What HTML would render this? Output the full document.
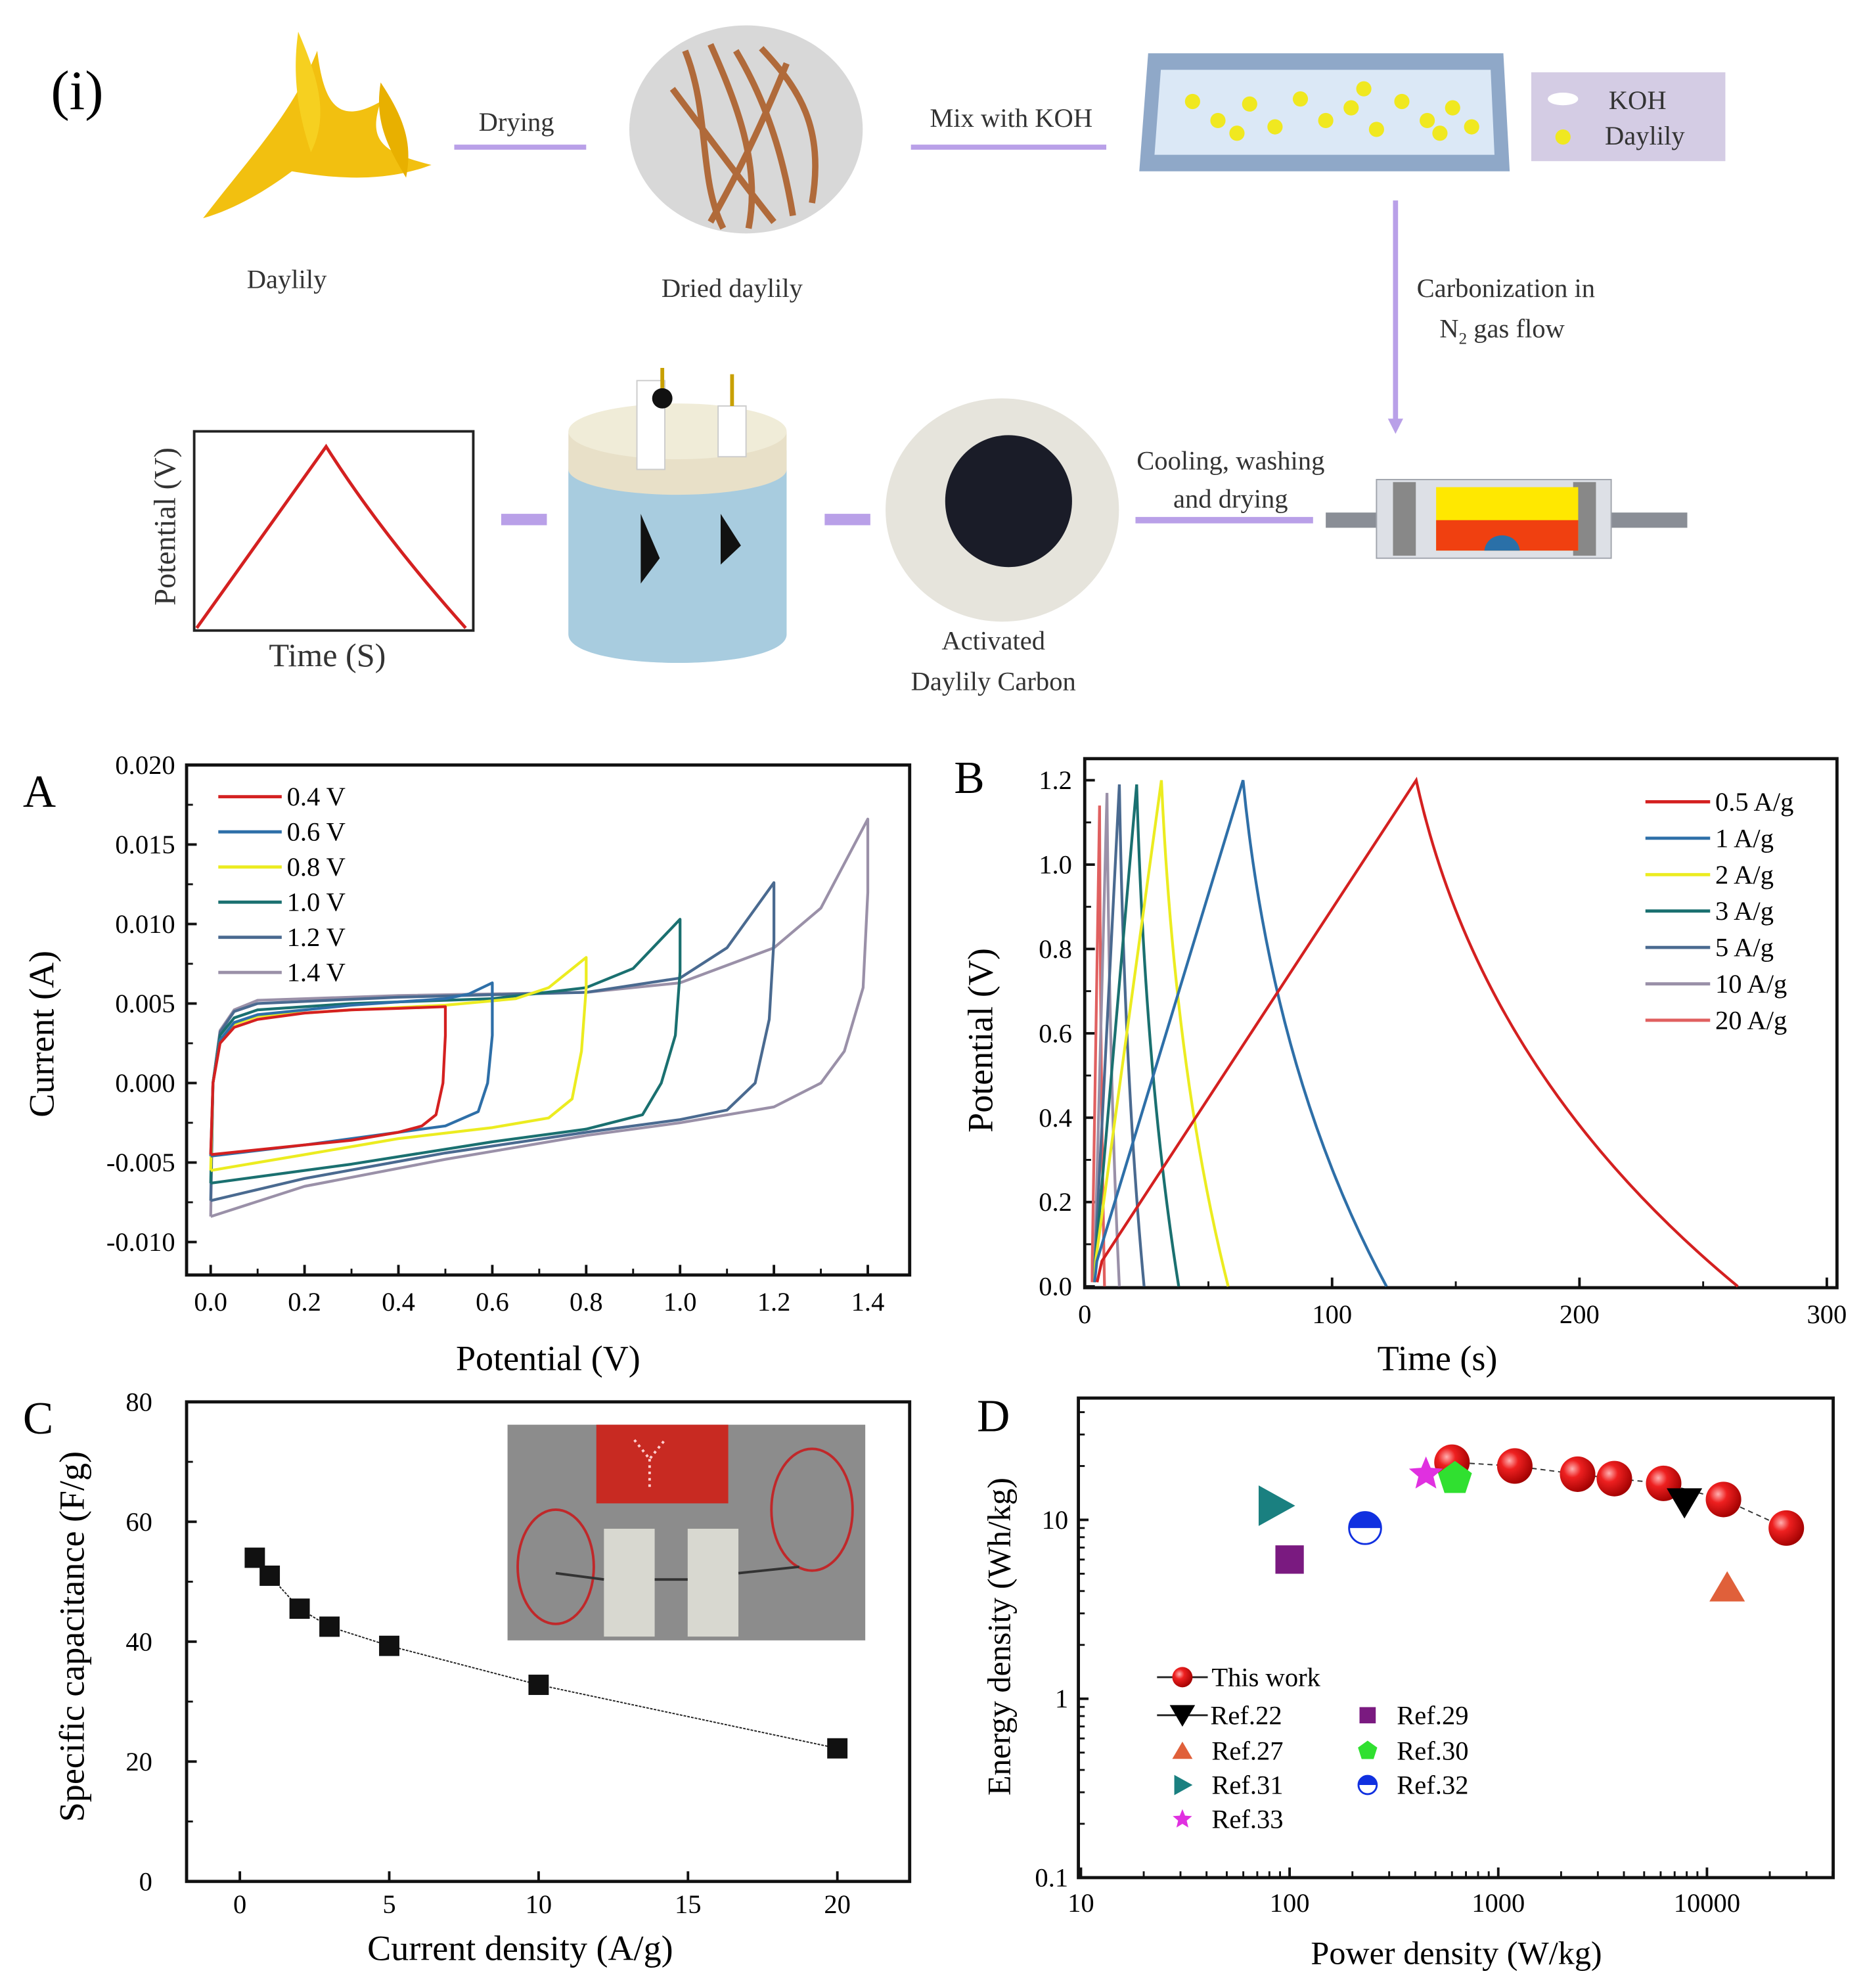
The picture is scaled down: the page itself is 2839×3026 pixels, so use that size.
<!DOCTYPE html>
<html><head><meta charset="utf-8">
<style>
html,body{margin:0;padding:0;background:#fff;}
svg{display:block;font-family:"Liberation Serif",serif;}
</style></head>
<body>
<svg id="fig" width="2839" height="3026" viewBox="0 0 1470 1567" xmlns="http://www.w3.org/2000/svg">
<rect width="1470" height="1567" fill="#fff"/>
<g>
  <text x="40" y="86" font-size="44">(i)</text>
  <g>
    <path d="M160,172 C200,120 230,90 250,40 C255,80 265,100 300,80 C290,110 300,120 340,130 C300,145 260,140 230,135 C210,150 185,165 160,172Z" fill="#f2c010"/>
    <path d="M235,25 C250,60 260,90 245,120 C235,90 230,60 235,25Z" fill="#f6d020"/>
    <path d="M300,65 C320,95 325,115 320,140 C305,115 295,95 300,65Z" fill="#e8b000"/>
  </g>
  <text x="226" y="227" font-size="21" text-anchor="middle" fill="#333">Daylily</text>
  <line x1="358" y1="116" x2="462" y2="116" stroke="#b9a0e8" stroke-width="4"/>
  <text x="407" y="103" font-size="21" text-anchor="middle" fill="#333">Drying</text>
  <g>
    <ellipse cx="588" cy="102" rx="92" ry="82" fill="#d8d8d8"/>
    <path d="M540,40 C560,90 550,140 570,180 M560,35 C580,80 600,130 590,180 M580,40 C610,90 620,140 625,170 M600,38 C630,70 650,100 640,160 M530,70 C560,110 590,150 610,175 M620,50 C600,100 580,140 560,175" stroke="#b06a3a" stroke-width="5" fill="none"/>
  </g>
  <text x="577" y="234" font-size="21" text-anchor="middle" fill="#333">Dried daylily</text>
  <line x1="718" y1="116" x2="872" y2="116" stroke="#b9a0e8" stroke-width="4"/>
  <text x="797" y="100" font-size="21" text-anchor="middle" fill="#333">Mix with KOH</text>
  <g>
    <path d="M905,42 L1185,42 L1190,135 L898,135Z" fill="#8fa8c8"/>
    <path d="M915,55 L1175,55 L1178,122 L910,122Z" fill="#dbe8f6"/>
    <g fill="#f0e820">
      <circle cx="940" cy="80" r="6"/><circle cx="960" cy="95" r="6"/><circle cx="985" cy="82" r="6"/><circle cx="1005" cy="100" r="6"/><circle cx="1025" cy="78" r="6"/><circle cx="1045" cy="95" r="6"/><circle cx="1065" cy="85" r="6"/><circle cx="1085" cy="102" r="6"/><circle cx="1105" cy="80" r="6"/><circle cx="1125" cy="95" r="6"/><circle cx="1145" cy="85" r="6"/><circle cx="1160" cy="100" r="6"/><circle cx="975" cy="105" r="6"/><circle cx="1075" cy="70" r="6"/><circle cx="1135" cy="105" r="6"/>
    </g>
  </g>
  <g>
    <rect x="1207" y="57" width="153" height="70" fill="#d4cce4"/>
    <ellipse cx="1232" cy="78" rx="12" ry="5" fill="#fff"/>
    <circle cx="1232" cy="108" r="6" fill="#f0e820"/>
    <text x="1268" y="86" font-size="21" fill="#333">KOH</text>
    <text x="1265" y="114" font-size="21" fill="#333">Daylily</text>
  </g>
  <line x1="1100" y1="158" x2="1100" y2="338" stroke="#b9a0e8" stroke-width="4"/>
  <path d="M1094,330 L1106,330 L1100,342Z" fill="#b9a0e8"/>
  <text x="1187" y="234" font-size="21" text-anchor="middle" fill="#333">Carbonization  in</text>
  <text x="1184" y="266" font-size="21" text-anchor="middle" fill="#333">N<tspan font-size="13" dy="5">2</tspan><tspan dy="-5"> gas flow</tspan></text>
  <g>
    <rect x="1045" y="404" width="285" height="12" fill="#8a8e96"/>
    <rect x="1085" y="378" width="185" height="62" fill="#dde0e6" stroke="#a0a4ac"/>
    <rect x="1098" y="380" width="18" height="58" fill="#888"/>
    <rect x="1240" y="380" width="18" height="58" fill="#888"/>
    <rect x="1132" y="384" width="112" height="50" fill="#ffe800"/>
    <rect x="1132" y="410" width="112" height="24" fill="#f04010"/>
    <path d="M1170,434 C1172,418 1196,418 1198,434Z" fill="#2a70a8"/>
  </g>
  <line x1="895" y1="410" x2="1035" y2="410" stroke="#b9a0e8" stroke-width="5"/>
  <text x="970" y="370" font-size="21" text-anchor="middle" fill="#333">Cooling, washing</text>
  <text x="970" y="400" font-size="21" text-anchor="middle" fill="#333">and drying</text>
  <g>
    <ellipse cx="790" cy="402" rx="92" ry="88" fill="#e6e4dc"/>
    <ellipse cx="795" cy="395" rx="50" ry="52" fill="#1a1c28"/>
  </g>
  <text x="783" y="512" font-size="21" text-anchor="middle" fill="#333">Activated</text>
  <text x="783" y="544" font-size="21" text-anchor="middle" fill="#333">Daylily Carbon</text>
  <rect x="650" y="405" width="36" height="9" fill="#b9a0e8"/>
  <g>
    <path d="M448,355 L448,500 C448,530 620,530 620,500 L620,355Z" fill="#b8d4e4"/>
    <path d="M448,370 L448,500 C448,530 620,530 620,500 L620,370Z" fill="#9cc6dc" opacity="0.6"/>
    <ellipse cx="534" cy="370" rx="86" ry="20" fill="#e8e0c8"/>
    <rect x="448" y="340" width="172" height="30" fill="#e8e0c8"/>
    <ellipse cx="534" cy="340" rx="86" ry="22" fill="#f0ecd8"/>
    <rect x="502" y="300" width="22" height="70" fill="#fff" stroke="#ccc"/>
    <rect x="566" y="320" width="22" height="40" fill="#fff" stroke="#ccc"/>
    <circle cx="522" cy="314" r="8" fill="#111"/>
    <line x1="522" y1="290" x2="522" y2="306" stroke="#c8a000" stroke-width="3"/>
    <line x1="577" y1="295" x2="577" y2="320" stroke="#c8a000" stroke-width="3"/>
    <path d="M505,405 L505,460 L520,440Z M568,405 L568,445 L584,430Z" fill="#111"/>
  </g>
  <rect x="395" y="405" width="36" height="9" fill="#b9a0e8"/>
  <g>
    <rect x="153" y="340" width="220" height="157" fill="#fff" stroke="#222" stroke-width="2"/>
    <path d="M155,495 L257,352 Q300,420 367,495" fill="none" stroke="#d42020" stroke-width="2.5"/>
    <text x="258" y="525" font-size="26" text-anchor="middle" fill="#333">Time (S)</text>
    <text transform="translate(138,415) rotate(-90)" font-size="24" text-anchor="middle" fill="#333">Potential (V)</text>
  </g>
</g>
<g id="pA"></g>
<g id="pB"></g>
<g id="pC"></g>
<g id="pD"></g>
</svg>
<script>
// ===== Panel A data =====
const cvLabels = ["0.4 V","0.6 V","0.8 V","1.0 V","1.2 V","1.4 V"];
const cvColors = ["#d42020","#2e6fa8","#ecec20","#1a7070","#4a6a90","#9a90a8"];
const cvV0 = [0,0.005,0.02,0.05,0.1,0.2,0.3,0.4,0.5,0.5,0.495,0.48,0.45,0.4,0.3,0.2,0.1,0];
const cvI0 = [-0.0045,0,0.0025,0.0035,0.004,0.0044,0.0046,0.0047,0.0048,0.003,0,-0.002,-0.0027,-0.0031,-0.0036,-0.0039,-0.0042,-0.0045];
const cvV1 = [0,0.005,0.02,0.05,0.1,0.3,0.5,0.55,0.6,0.6,0.59,0.57,0.5,0.4,0.2,0];
const cvI1 = [-0.0046,0,0.0027,0.0038,0.0043,0.0049,0.0053,0.0056,0.0063,0.003,0,-0.0018,-0.0027,-0.0031,-0.0039,-0.0046];
const cvV2 = [0,0.005,0.02,0.05,0.1,0.3,0.5,0.65,0.72,0.8,0.8,0.79,0.77,0.72,0.6,0.4,0.2,0];
const cvI2 = [-0.0055,0,0.0027,0.0037,0.0042,0.0046,0.0049,0.0053,0.006,0.0079,0.006,0.002,-0.001,-0.0022,-0.0028,-0.0035,-0.0045,-0.0055];
const cvV3 = [0,0.005,0.02,0.05,0.1,0.3,0.6,0.8,0.9,1.0,1.0,0.99,0.96,0.92,0.8,0.6,0.3,0];
const cvI3 = [-0.0063,0,0.003,0.0041,0.0046,0.005,0.0053,0.006,0.0072,0.0103,0.007,0.003,0,-0.002,-0.0029,-0.0037,-0.0051,-0.0063];
const cvV4 = [0,0.005,0.02,0.05,0.1,0.4,0.8,1.0,1.1,1.2,1.2,1.19,1.16,1.1,1.0,0.8,0.5,0.2,0];
const cvI4 = [-0.0074,0,0.0032,0.0045,0.005,0.0054,0.0057,0.0066,0.0085,0.0126,0.009,0.004,0,-0.0017,-0.0023,-0.0031,-0.0044,-0.006,-0.0074];
const cvV5 = [0,0.005,0.02,0.05,0.1,0.4,0.8,1.0,1.2,1.3,1.4,1.4,1.39,1.35,1.3,1.2,1.0,0.8,0.5,0.2,0];
const cvI5 = [-0.0084,0,0.0033,0.0046,0.0052,0.0055,0.0057,0.0063,0.0085,0.011,0.0166,0.012,0.006,0.002,0,-0.0015,-0.0025,-0.0033,-0.0048,-0.0065,-0.0084];
const cvXTicks = [0,0.2,0.4,0.6,0.8,1.0,1.2,1.4];
const cvYTicks = [0.020,0.015,0.010,0.005,0.000,-0.005,-0.010];
// ===== Panel B data =====
const gcdLabels = ["0.5 A/g","1 A/g","2 A/g","3 A/g","5 A/g","10 A/g","20 A/g"];
const gcdColors = ["#d42020","#2e6fa8","#ecec20","#1a7070","#4a6a90","#9a90a8","#e06060"];
const gcdStart = [5,4,4,4,4,4,3];
const gcdPeakT = [134,64,31,21,14,9,6];
const gcdPeakV = [1.2,1.2,1.2,1.19,1.19,1.17,1.14];
const gcdEnd = [264,122,58,38,24,14,8];
const gcdXTicks = [0,100,200,300];
const gcdYTicks = [0.0,0.2,0.4,0.6,0.8,1.0,1.2];
// ===== Panel C data =====
const capCurrent = [0.5,1,2,3,5,10,20];
const capValue = [54,51,45.5,42.5,39.3,32.8,22.2];
const capXTicks = [0,5,10,15,20];
const capYTicks = [0,20,40,60,80];
// ===== Panel D data =====
const thisPower = [600,1200,2400,3600,6200,12000,24000];
const thisEnergy = [21,20,18,17,16,13,9];
const refNames = ["Ref.22","Ref.27","Ref.29","Ref.30","Ref.31","Ref.32","Ref.33"];
const refPower = [7800,12500,100,620,85,230,450];
const refEnergy = [12.5,4.2,6,17,12,9,18];
const ragXTicks = [10,100,1000,10000];
const ragYTicks = [0.1,1,10];

const NS="http://www.w3.org/2000/svg";
function mk(tag,attrs,parent,txt){const e=document.createElementNS(NS,tag);for(const k in attrs)e.setAttribute(k,attrs[k]);if(txt!==undefined)e.textContent=txt;parent.appendChild(e);return e;}
function frame(g,x0,y0,x1,y1){const r=mk('rect',{x:x0,y:y0,width:x1-x0,height:y1-y0,fill:'none',stroke:'#111','stroke-width':2.5},g);

}
function pts(xs,ys,fx,fy){return xs.map((v,i)=>fx(v).toFixed(1)+','+fy(ys[i]).toFixed(1)).join(' ');}

// ===== Panel A =====
(function(){
const g=document.getElementById('pA');
const X0=147,X1=717,Y0=603,Y1=1005;
const fx=v=>166+v*370, fy=v=>603+(0.020-v)/0.030*376;
frame(g,X0,Y0,X1,Y1);
const L=mk('text',{x:18,y:636,'font-size':36},g,'A');


cvYTicks.forEach(v=>{const y=fy(v);mk('line',{x1:X0,y1:y,x2:X0+8,y2:y,stroke:'#111','stroke-width':2},g);
const t=mk('text',{x:138,y:y+7,'font-size':21,'text-anchor':'end'},g,v.toFixed(3));

});
cvYTicks.slice(0,-1).forEach(v=>{const y=fy(v-0.0025);mk('line',{x1:X0,y1:y,x2:X0+5,y2:y,stroke:'#111','stroke-width':1.5},g);});
cvXTicks.forEach(v=>{const x=fx(v);mk('line',{x1:x,y1:Y1,x2:x,y2:Y1-8,stroke:'#111','stroke-width':2},g);if(v<1.3)mk('line',{x1:fx(v+0.1),y1:Y1,x2:fx(v+0.1),y2:Y1-5,stroke:'#111','stroke-width':1.5},g);
const t=mk('text',{x:x,y:1033,'font-size':21,'text-anchor':'middle'},g,v.toFixed(1));

});
const xt=mk('text',{x:432,y:1080,'font-size':28,'text-anchor':'middle'},g,'Potential (V)');


const yt=mk('text',{transform:'translate(42,815) rotate(-90)','font-size':28,'text-anchor':'middle'},g,'Current (A)');


const V=[cvV0,cvV1,cvV2,cvV3,cvV4,cvV5], I=[cvI0,cvI1,cvI2,cvI3,cvI4,cvI5];
for(let k=5;k>=0;k--){const p=mk('polyline',{points:pts(V[k],I[k],fx,fy),fill:'none',stroke:cvColors[k],'stroke-width':2.2,'stroke-linejoin':'round'},g);

}
cvLabels.forEach((s,k)=>{const y=628+k*27.7;mk('line',{x1:172,y1:y,x2:222,y2:y,stroke:cvColors[k],'stroke-width':2.5},g);
const t=mk('text',{x:226,y:y+7,'font-size':21},g,s);

});
})();

// ===== Panel B =====
(function(){
const g=document.getElementById('pB');
const X0=855,X1=1448,Y0=598,Y1=1015;
const fx=t=>855+t*1.95, fy=v=>1014-v*332.5;
frame(g,X0,Y0,X1,Y1);
const L=mk('text',{x:752,y:625,'font-size':36},g,'B');


gcdYTicks.forEach(v=>{const y=fy(v);mk('line',{x1:X0,y1:y,x2:X0+8,y2:y,stroke:'#111','stroke-width':2},g);if(v<1.1)mk('line',{x1:X0,y1:fy(v+0.1),x2:X0+5,y2:fy(v+0.1),stroke:'#111','stroke-width':1.5},g);
const t=mk('text',{x:845,y:y+7,'font-size':21,'text-anchor':'end'},g,v.toFixed(1));

});
gcdXTicks.forEach(v=>{const x=fx(v);mk('line',{x1:x,y1:Y1,x2:x,y2:Y1-8,stroke:'#111','stroke-width':2},g);if(v<300)mk('line',{x1:fx(v+50),y1:Y1,x2:fx(v+50),y2:Y1-5,stroke:'#111','stroke-width':1.5},g);
const t=mk('text',{x:x,y:1043,'font-size':21,'text-anchor':'middle'},g,String(v));

});
const xt=mk('text',{x:1133,y:1080,'font-size':28,'text-anchor':'middle'},g,'Time (s)');


const yt=mk('text',{transform:'translate(782,820) rotate(-90)','font-size':28,'text-anchor':'middle'},g,'Potential (V)');


for(let k=6;k>=0;k--){const s=gcdStart[k],p=gcdPeakT[k],e=gcdEnd[k],pv=gcdPeakV[k];
const ct=p+0.2*(e-p), cv=0.42*pv;
const d=`M${fx(s)},${fy(0.01)} L${fx(s+0.015*(p-s))},${fy(0.06)} L${fx(p)},${fy(pv)} Q${fx(ct)},${fy(cv)} ${fx(e)},${fy(0)}`;
const path=mk('path',{d:d,fill:'none',stroke:gcdColors[k],'stroke-width':2.2},g);

}
gcdLabels.forEach((s,k)=>{const y=632+k*28.7;mk('line',{x1:1297,y1:y,x2:1348,y2:y,stroke:gcdColors[k],'stroke-width':2.5},g);
const t=mk('text',{x:1352,y:y+7,'font-size':21},g,s);

});
})();

// ===== Panel C =====
(function(){
const g=document.getElementById('pC');
const X0=147,X1=717,Y0=1105,Y1=1483;
const fx=v=>189+v*23.55, fy=v=>1483-v*4.725;
frame(g,X0,Y0,X1,Y1);
const L=mk('text',{x:18,y:1130,'font-size':36},g,'C');


capYTicks.forEach(v=>{const y=fy(v);mk('line',{x1:X0,y1:y,x2:X0+8,y2:y,stroke:'#111','stroke-width':2},g);if(v<80)mk('line',{x1:X0,y1:fy(v+10),x2:X0+5,y2:fy(v+10),stroke:'#111','stroke-width':1.5},g);
const t=mk('text',{x:120,y:y+7,'font-size':21,'text-anchor':'end'},g,String(v));

});
capXTicks.forEach(v=>{const x=fx(v);mk('line',{x1:x,y1:Y1,x2:x,y2:Y1-8,stroke:'#111','stroke-width':2},g);
const t=mk('text',{x:x,y:1508,'font-size':21,'text-anchor':'middle'},g,String(v));

});
const xt=mk('text',{x:410,y:1545,'font-size':28,'text-anchor':'middle'},g,'Current density (A/g)');


const yt=mk('text',{transform:'translate(66,1290) rotate(-90)','font-size':28,'text-anchor':'middle'},g,'Specific capacitance (F/g)');


const ph=mk('g',{},g);


mk('rect',{x:400,y:1123,width:282,height:170,fill:'#8c8c8c'},ph);
mk('rect',{x:470,y:1123,width:104,height:62,fill:'#c82a22'},ph);
mk('path',{d:'M500,1135 L512,1150 L524,1135 M512,1150 L512,1172',stroke:'#ffd0d0','stroke-width':2,fill:'none','stroke-dasharray':'2 3'},ph);
mk('ellipse',{cx:438,cy:1235,rx:30,ry:45,fill:'none',stroke:'#c0282a','stroke-width':2},ph);
mk('ellipse',{cx:640,cy:1190,rx:32,ry:48,fill:'none',stroke:'#c0282a','stroke-width':2},ph);
mk('rect',{x:476,y:1205,width:40,height:85,fill:'#d8d8d0'},ph);
mk('rect',{x:542,y:1205,width:40,height:85,fill:'#d8d8d0'},ph);
mk('path',{d:'M438,1240 L476,1245 M516,1245 L542,1245 M582,1240 L630,1235',stroke:'#333','stroke-width':2},ph);
const line=mk('polyline',{points:pts(capCurrent,capValue,fx,fy),fill:'none',stroke:'#222','stroke-width':1,'stroke-dasharray':'2 1'},g);


capCurrent.forEach((c,i)=>{const r=mk('rect',{x:fx(c)-8,y:fy(capValue[i])-8,width:16,height:16,fill:'#111'},g);

});
})();

// ===== Panel D =====
(function(){
const g=document.getElementById('pD');
const X0=850,X1=1445,Y0=1102,Y1=1480;
const fx=p=>852+Math.log10(p/10)*164.5, fy=e=>1480-(Math.log10(e)+1)*141;
frame(g,X0,Y0,X1,Y1);
const L=mk('text',{x:770,y:1128,'font-size':36},g,'D');


ragYTicks.forEach(v=>{const y=fy(v);mk('line',{x1:X0,y1:y,x2:X0+8,y2:y,stroke:'#111','stroke-width':2},g);
for(let m=2;m<10;m++){const yy=fy(v*m);if(yy>Y0)mk('line',{x1:X0,y1:yy,x2:X0+5,y2:yy,stroke:'#111','stroke-width':1.5},g);}
const t=mk('text',{x:842,y:y+7,'font-size':21,'text-anchor':'end'},g,String(v));

});
ragXTicks.forEach(v=>{const x=fx(v);mk('line',{x1:x,y1:Y1,x2:x,y2:Y1-8,stroke:'#111','stroke-width':2},g);
for(let m=2;m<10;m++){const xx=fx(v*m);if(xx<X1)mk('line',{x1:xx,y1:Y1,x2:xx,y2:Y1-5,stroke:'#111','stroke-width':1.5},g);}
const t=mk('text',{x:x,y:1507,'font-size':21,'text-anchor':'middle'},g,String(v));

});
const xt=mk('text',{x:1148,y:1548,'font-size':26,'text-anchor':'middle'},g,'Power density (W/kg)');


const yt=mk('text',{transform:'translate(796,1290) rotate(-90)','font-size':26,'text-anchor':'middle'},g,'Energy density (Wh/kg)');


const defs=mk('defs',{},g);
const rg=mk('radialGradient',{id:'ball',cx:'0.35',cy:'0.35',r:'0.7'},defs);
mk('stop',{offset:'0','stop-color':'#ffb0b0'},rg);mk('stop',{offset:'0.35','stop-color':'#ee2020'},rg);mk('stop',{offset:'1','stop-color':'#a00000'},rg);
function marker(k,x,y,s){
 if(k==0){return mk('path',{d:`M${x-s},${y-s*0.8} L${x+s},${y-s*0.8} L${x},${y+s*0.9}Z`,fill:'#000'},g);}
 if(k==1){return mk('path',{d:`M${x-s},${y+s*0.8} L${x+s},${y+s*0.8} L${x},${y-s*0.9}Z`,fill:'#e0603a'},g);}
 if(k==2){return mk('rect',{x:x-s*0.8,y:y-s*0.8,width:s*1.6,height:s*1.6,fill:'#7a1a80'},g);}
 if(k==3){const p=[];for(let i=0;i<5;i++){const a=-Math.PI/2+i*2*Math.PI/5;p.push((x+s*Math.cos(a)).toFixed(1)+','+(y+s*Math.sin(a)).toFixed(1));}return mk('polygon',{points:p.join(' '),fill:'#30e030'},g);}
 if(k==4){return mk('path',{d:`M${x-s*0.8},${y-s} L${x+s},${y} L${x-s*0.8},${y+s}Z`,fill:'#1a8080'},g);}
 if(k==5){const gg=mk('g',{},g);mk('circle',{cx:x,cy:y,r:s*0.9,fill:'#fff',stroke:'#1030e0','stroke-width':1.5},gg);mk('path',{d:`M${x-s*0.9},${y} A${s*0.9},${s*0.9} 0 0 1 ${x+s*0.9},${y}Z`,fill:'#1030e0'},gg);return gg;}
 const p=[];for(let i=0;i<10;i++){const a=-Math.PI/2+i*Math.PI/5;const r=i%2?s*0.45:s;p.push((x+r*Math.cos(a)).toFixed(1)+','+(y+r*Math.sin(a)).toFixed(1));}return mk('polygon',{points:p.join(' '),fill:'#e030e0'},g);
}
const line=mk('polyline',{points:pts(thisPower,thisEnergy,fx,fy),fill:'none',stroke:'#333','stroke-width':1,'stroke-dasharray':'4 3'},g);


thisPower.forEach((p,i)=>{const c=mk('circle',{cx:fx(p),cy:fy(thisEnergy[i]),r:14,fill:'url(#ball)'},g);

});
refPower.forEach((p,k)=>{const m=marker(k,fx(p),fy(refEnergy[k]),k==4?16:14);

});
mk('line',{x1:912,y1:1322,x2:952,y2:1322,stroke:'#222','stroke-width':1.5},g);
mk('circle',{cx:932,cy:1322,r:8,fill:'url(#ball)'},g);
const t0=mk('text',{x:955,y:1329,'font-size':21},g,'This work');


const lp=[[932,1352],[932,1380],[1078,1352],[1078,1380],[932,1407],[1078,1407],[932,1434]];
mk('line',{x1:912,y1:1352,x2:952,y2:1352,stroke:'#222','stroke-width':1.5},g);
refNames.forEach((n,k)=>{const [x,y]=lp[k];marker(k,x,y,k==0?10:8);
const t=mk('text',{x:x+(k==0?22:23),y:y+7,'font-size':21},g,n);

});
})();
</script>
</body></html>
